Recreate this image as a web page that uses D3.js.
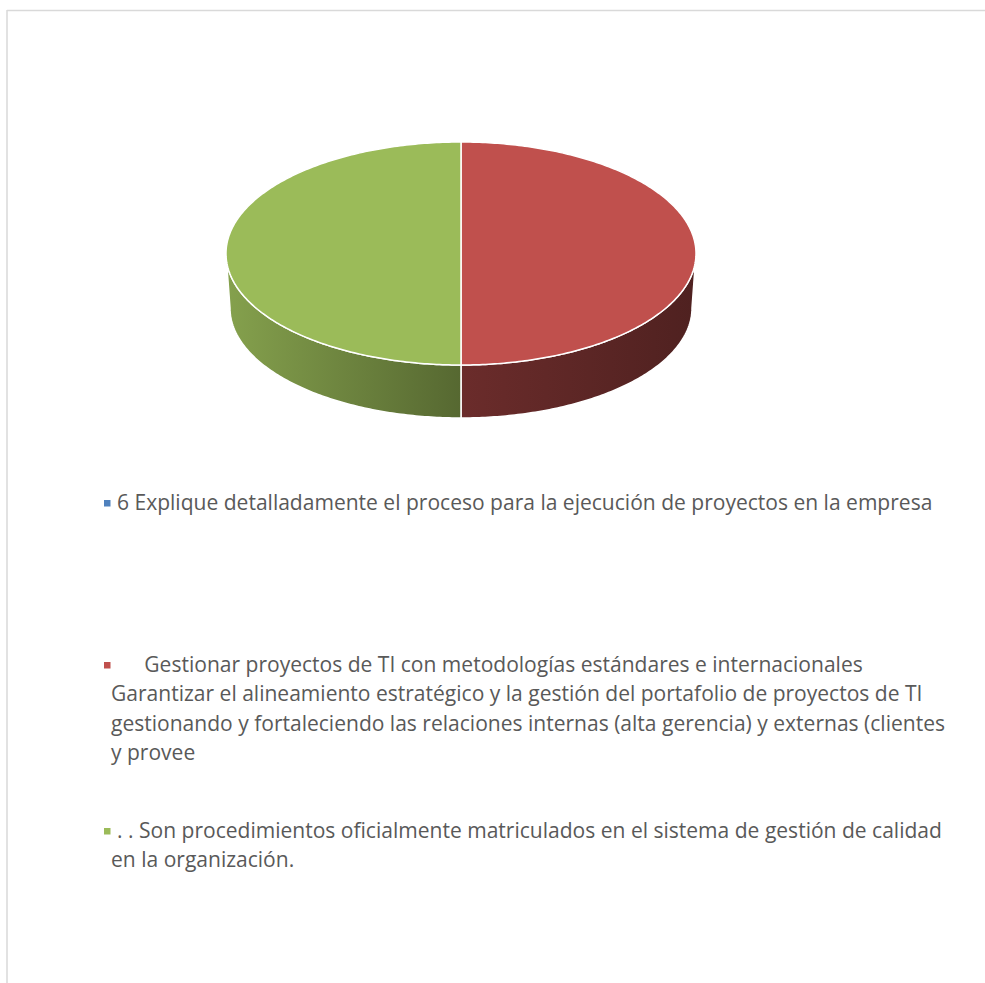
<!DOCTYPE html>
<html>
<head>
<meta charset="utf-8">
<script src="https://cdn.jsdelivr.net/npm/d3@7"></script>
<style>
  html, body { margin: 0; padding: 0; background: #ffffff; }
  svg { display: block; }
  text { font-family: "Open Sans", Lato, sans-serif; white-space: pre; }
</style>
</head>
<body>
<svg id="chart" width="985" height="983"></svg>
<script>
// Series: one value per category (the first category has no share)
const categories = [
  "6 Explique detalladamente el proceso para la ejecución de proyectos en la empresa",
  "     Gestionar proyectos de TI con metodologías estándares e internacionales Garantizar el alineamiento estratégico y la gestión del portafolio de proyectos de TI gestionando y fortaleciendo las relaciones internas (alta gerencia) y externas (clientes y provee",
  ". . Son procedimientos oficialmente matriculados en el sistema de gestión de calidad en la organización."
];
const values = [0, 1, 1];
const colors = ["#4f81bd", "#c0504d", "#9bbb59"];

// Legend lines as they wrap in the legend box
const legendLines = [
  ["6 Explique detalladamente el proceso para la ejecución de proyectos en la empresa"],
  ["     Gestionar proyectos de TI con metodologías estándares e internacionales",
   "Garantizar el alineamiento estratégico y la gestión del portafolio de proyectos de TI",
   "gestionando y fortaleciendo las relaciones internas (alta gerencia) y externas (clientes",
   "y provee"],
  [". . Son procedimientos oficialmente matriculados en el sistema de gestión de calidad",
   "en la organización."]
];

const svg = d3.select("#chart");

// Chart area frame
svg.append("line").attr("x1", 7).attr("x2", 985).attr("y1", 10.5).attr("y2", 10.5)
  .attr("stroke", "#d9d9d9").attr("stroke-width", 1.5);
svg.append("line").attr("x1", 7).attr("x2", 7).attr("y1", 10).attr("y2", 983)
  .attr("stroke", "#d9d9d9").attr("stroke-width", 1.5);

// 3D pie geometry
const cx = 461, cy = 253.5, rx = 235, ry = 111.5;
const bx = 231, bcy = 308, bry = 110; // bottom rim (slightly narrower for perspective)

const pie = d3.pie().sort(null).value(d => d).startAngle(0).endAngle(2 * Math.PI);
const arcs = pie(values);

// angle measured clockwise from 12 o'clock
const topPt = a => [cx + rx * Math.sin(a), cy - ry * Math.cos(a)];
const botPt = a => [cx + bx * Math.sin(a), bcy - bry * Math.cos(a)];

function sample(a0, a1, f, n) {
  const pts = [];
  for (let i = 0; i <= n; i++) pts.push(f(a0 + (a1 - a0) * i / n));
  return pts;
}

const defs = svg.append("defs");
const line = d3.line();

// Side walls (front half only: angles between 90° and 270°)
const gSide = svg.append("g");
arcs.forEach((d, i) => {
  if (d.endAngle - d.startAngle <= 0) return;
  const a0 = Math.max(d.startAngle, Math.PI / 2);
  const a1 = Math.min(d.endAngle, 3 * Math.PI / 2);
  if (a1 <= a0) return;
  const base = d3.color(colors[i]);
  const gid = "side" + i;
  const grad = defs.append("linearGradient").attr("id", gid)
    .attr("gradientUnits", "userSpaceOnUse")
    .attr("x1", cx - rx).attr("x2", cx + rx).attr("y1", 0).attr("y2", 0);
  [[0, 0.42], [0.5, 1.65], [1, 2.5]].forEach(([o, k]) => {
    grad.append("stop").attr("offset", o).attr("stop-color", base.darker(k).formatHex());
  });
  const pts = sample(a0, a1, topPt, 120).concat(sample(a1, a0, botPt, 120));
  gSide.append("path")
    .attr("d", line(pts) + "Z")
    .attr("fill", `url(#${gid})`)
    .attr("stroke", "#ffffff").attr("stroke-width", 1.5).attr("stroke-linejoin", "round");
});

// Top faces
const gTop = svg.append("g");
arcs.forEach((d, i) => {
  if (d.endAngle - d.startAngle <= 0) return;
  const pts = [[cx, cy]].concat(sample(d.startAngle, d.endAngle, topPt, 240));
  gTop.append("path")
    .attr("d", line(pts) + "Z")
    .attr("fill", colors[i])
    .attr("stroke", "#ffffff").attr("stroke-width", 1.5).attr("stroke-linejoin", "round");
});

// Legend
const legendX = 104, textX = 117, wrapX = 111, lineH = 29.3;
const legendTop = [510, 672, 838];
const legendWidth = 816; // span of the first legend line

// size the legend font so the first line spans the legend width
const probe = svg.append("text").attr("font-size", 20).text(legendLines[0][0]);
const fontSize = 20 * legendWidth / probe.node().getComputedTextLength();
probe.remove();

const gLeg = svg.append("g");
categories.forEach((c, i) => {
  gLeg.append("rect")
    .attr("x", legendX).attr("y", legendTop[i] - 10)
    .attr("width", 6.5).attr("height", 6.5)
    .attr("fill", colors[i]);
  legendLines[i].forEach((t, j) => {
    gLeg.append("text")
      .attr("x", j === 0 ? textX : wrapX)
      .attr("y", legendTop[i] + j * lineH)
      .attr("font-size", fontSize)
      .attr("fill", "#595959")
      .text(t);
  });
});
</script>
</body>
</html>
